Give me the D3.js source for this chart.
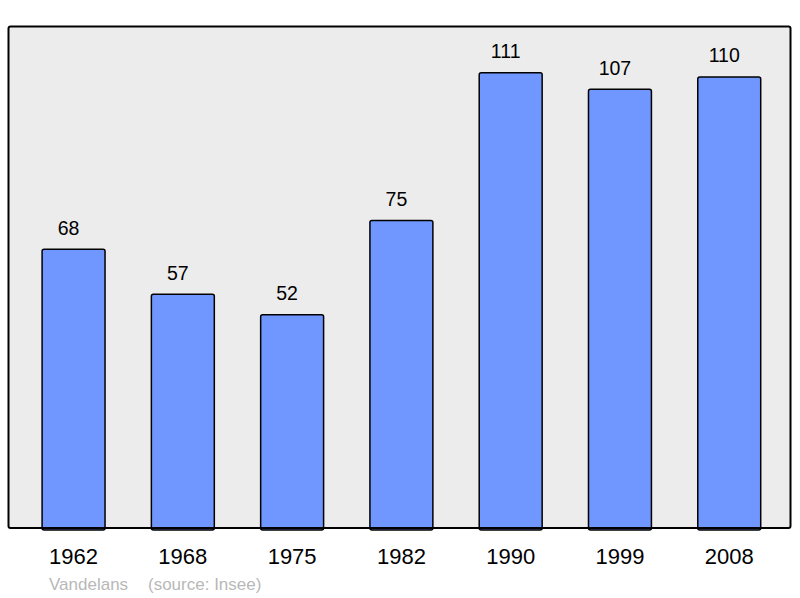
<!DOCTYPE html>
<html>
<head>
<meta charset="utf-8">
<script src="https://cdn.jsdelivr.net/npm/d3@7"></script>
<style>
  body { margin: 0; background: #fff; }
  text { font-family: "Liberation Sans", Arial, sans-serif; }
</style>
</head>
<body>
<div id="chart"></div>
<script>
// Datos
const years = ["1962", "1968", "1975", "1982", "1990", "1999", "2008"]
const population = [68, 57, 52, 75, 111, 107, 110]
const commune = "Vandelans"
const source = "(source: Insee)"

const width = 800, height = 598
const frame = {left: 8.5, right: 790.5, top: 26.5, bottom: 528}

const svg = d3.select("#chart")
  .append("svg")
    .attr("width", width)
    .attr("height", height)

// Escalas
const x = d3.scaleBand()
  .domain(years)
  .range([frame.left, frame.right])
  .paddingInner(0.424)
  .paddingOuter(0.29)
  .align(0.53)

const y = d3.scaleLinear()
  .domain([0, 122.3])
  .range([frame.bottom, frame.top])

// Fondo del gráfico
svg.append("rect")
  .attr("x", frame.left)
  .attr("y", frame.top)
  .attr("width", frame.right - frame.left)
  .attr("height", frame.bottom - frame.top)
  .attr("rx", 2)
  .attr("fill", "#ececec")
  .attr("stroke", "none")

// Barras
svg.selectAll("rect.bar")
  .data(population)
  .join("rect")
    .attr("class", "bar")
    .attr("x", (d, i) => x(years[i]))
    .attr("y", d => y(d))
    .attr("width", x.bandwidth())
    .attr("height", d => y(0) - y(d) + 2)
    .attr("rx", 2)
    .attr("fill", "#7096ff")
    .attr("stroke", "#000")
    .attr("stroke-width", 1.5)

// Marco
svg.append("rect")
  .attr("x", frame.left)
  .attr("y", frame.top)
  .attr("width", frame.right - frame.left)
  .attr("height", frame.bottom - frame.top)
  .attr("rx", 2)
  .attr("fill", "none")
  .attr("stroke", "#000")
  .attr("stroke-width", 2)

// Etiquetas de valores
svg.selectAll("text.value")
  .data(population)
  .join("text")
    .attr("class", "value")
    .attr("x", (d, i) => x(years[i]) + x.bandwidth() / 2 - 5)
    .attr("y", d => y(d) - 14.5)
    .attr("text-anchor", "middle")
    .attr("font-size", 19.5)
    .attr("fill", "#000")
    .text(d => d)

// Eje X
const xAxis = svg.append("g")
  .attr("transform", `translate(0, ${frame.bottom})`)
  .call(d3.axisBottom(x).tickSize(0).tickPadding(18))
xAxis.select(".domain").remove()
xAxis.selectAll("text")
  .attr("font-size", 22)
  .attr("fill", "#000")
  .attr("dy", "0.71em")
  .attr("y", 20)

// Pie
svg.append("text")
  .attr("x", 49)
  .attr("y", 590)
  .attr("font-size", 17)
  .attr("fill", "#b8b8b8")
  .text(commune)
svg.append("text")
  .attr("x", 148)
  .attr("y", 590)
  .attr("font-size", 17)
  .attr("fill", "#b8b8b8")
  .text(source)
</script>
</body>
</html>
